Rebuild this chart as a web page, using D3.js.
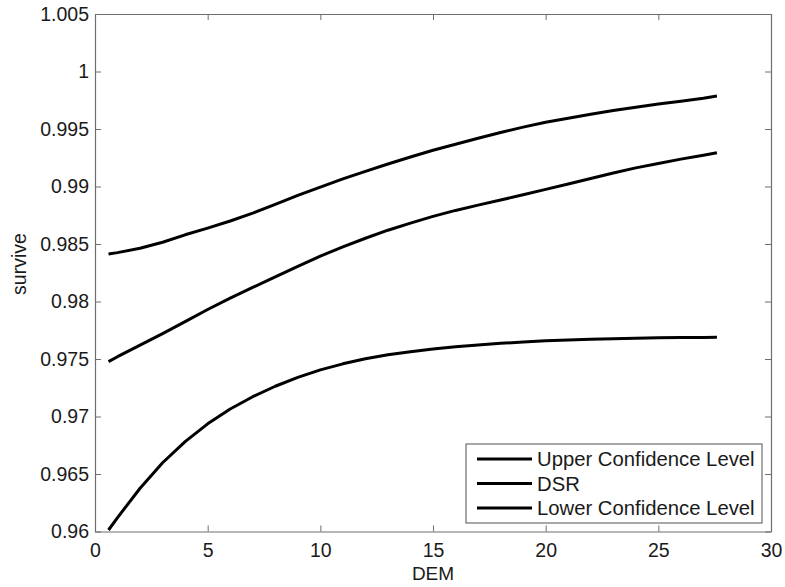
<!DOCTYPE html>
<html><head><meta charset="utf-8">
<script src="https://cdn.jsdelivr.net/npm/d3@7"></script>
<style>
html,body{margin:0;padding:0;background:#fff;}
text{font-family:"Liberation Sans",Arial,sans-serif;fill:#1a1a1a;}
</style></head>
<body>
<svg id="chart" width="785" height="587"></svg>
<script>
const dem = [0.6,1,2,3,4,5,6,7,8,9,10,11,12,13,14,15,16,17,18,19,20,21,22,23,24,25,26,27,27.6];
const upper = [.98413,.98425,.98463,.98515,.98580,.98638,.98700,.98768,.98845,.98922,.98995,.99066,.99132,.99196,.99257,.99315,.99368,.99420,.99470,.99516,.99558,.99594,.99628,.99660,.99690,.99717,.99742,.99768,.99787];
const dsr = [.97477,.97520,.97620,.97720,.97825,.97930,.98030,.98122,.98215,.98305,.98395,.98475,.98550,.98620,.98682,.98740,.98792,.98838,.98882,.98928,.98975,.99022,.99070,.99118,.99162,.99200,.99238,.99272,.99294];
const lower = [.96013,.96121,.96376,.96598,.96782,.96936,.97065,.97172,.97263,.97340,.97405,.97458,.97502,.97537,.97564,.97587,.97606,.97622,.97636,.97648,.97658,.97666,.97672,.97677,.97681,.97684,.97686,.97688,.97689];
const seriesNames = ["Upper Confidence Level","DSR","Lower Confidence Level"];
const xTicks = [0,5,10,15,20,25,30];
const yTicks = [0.96,0.965,0.97,0.975,0.98,0.985,0.99,0.995,1,1.005];
const xLabel = "DEM", yLabel = "survive";

const L=95, R=771, T=14, B=531.5;
const svg = d3.select("#chart");
const x = d3.scaleLinear().domain([0,30]).range([L,R]);
const y = d3.scaleLinear().domain([0.96,1.005]).range([B,T]);
const axisColor = "#6e6e6e";

svg.append("rect").attr("x",L).attr("y",T).attr("width",R-L).attr("height",B-T).attr("fill","#fff");

const fmt = d => (+d.toFixed(3)).toString();
const gx = svg.append("g").attr("transform",`translate(0,${B})`)
  .call(d3.axisBottom(x).tickValues(xTicks).tickSizeInner(-6).tickSizeOuter(0).tickPadding(12).tickFormat(fmt));
const gy = svg.append("g").attr("transform",`translate(${L},0)`)
  .call(d3.axisLeft(y).tickValues(yTicks).tickSizeInner(-6).tickSizeOuter(0).tickPadding(6).tickFormat(fmt));
const gt = svg.append("g").attr("transform",`translate(0,${T})`)
  .call(d3.axisTop(x).tickValues(xTicks).tickSizeInner(-6).tickSizeOuter(0).tickFormat(""));
const gr = svg.append("g").attr("transform",`translate(${R},0)`)
  .call(d3.axisRight(y).tickValues(yTicks).tickSizeInner(-6).tickSizeOuter(0).tickFormat(""));
[gx,gy,gt,gr].forEach(g=>{
  g.select(".domain").attr("stroke",axisColor).attr("stroke-width",1.2);
  g.selectAll(".tick line").attr("stroke",axisColor);
  g.selectAll(".tick text").attr("font-size",19.5).attr("font-family","Liberation Sans, Arial, sans-serif").attr("fill","#1a1a1a");
});

const line = d3.line().x((d,i)=>x(dem[i])).y(d=>y(d));
[upper,dsr,lower].forEach(s=>{
  svg.append("path").attr("d",line(s)).attr("fill","none").attr("stroke","#000")
    .attr("stroke-width",3).attr("stroke-linejoin","round");
});

svg.append("text").attr("x",(L+R)/2).attr("y",580).attr("text-anchor","middle").attr("font-size",19).text(xLabel);
svg.append("text").attr("transform",`translate(26,264) rotate(-90)`).attr("text-anchor","middle").attr("font-size",19.5).text(yLabel);

const lg = svg.append("g");
lg.append("rect").attr("x",466).attr("y",444).attr("width",296).attr("height",79)
  .attr("fill","#fff").attr("stroke",axisColor).attr("stroke-width",1.2);
seriesNames.forEach((n,i)=>{
  const cy = 459 + i*24.5;
  lg.append("line").attr("x1",477).attr("x2",532).attr("y1",cy).attr("y2",cy).attr("stroke","#000").attr("stroke-width",3);
  lg.append("text").attr("x",537).attr("y",cy+7).attr("font-size",20.3).text(n);
});
</script>
</body></html>
